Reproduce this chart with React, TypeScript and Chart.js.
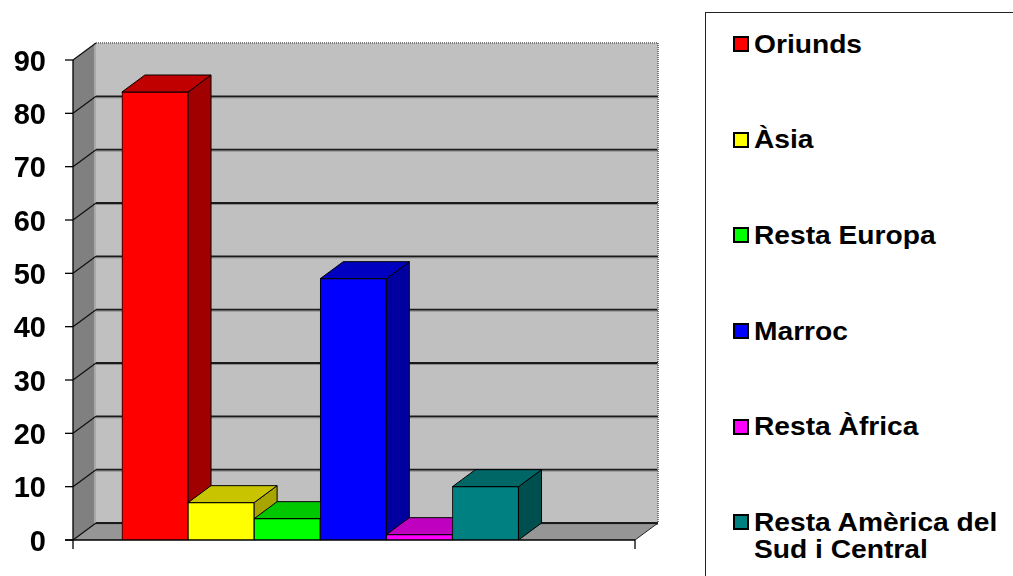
import { useEffect, useRef } from 'react';
import { Chart, registerables } from 'chart.js';

Chart.register(...registerables);

// ---- data ----
const categories = ['Oriunds', 'Àsia', 'Resta Europa', 'Marroc', 'Resta Àfrica', 'Resta Amèrica del Sud i Central'];
const values = [84, 7, 4, 49, 1, 10];
const yMin = 0;
const yMax = 90;
const yStep = 10;

// ---- styles ----
const frontColors = ['#ff0000', '#ffff00', '#00ff00', '#0000ff', '#ff00ff', '#008080'];
const topColors = ['#c00000', '#c8c400', '#00c800', '#0000c0', '#c000c0', '#006666'];
const sideColors = ['#a00000', '#a8a400', '#00a400', '#0000a0', '#a000a0', '#004f4f'];
const DX = 23;
const DY = -17;
const FONT = '"Liberation Sans", Arial, Helvetica, sans-serif';

function poly(ctx: CanvasRenderingContext2D, pts: number[][], fill: string | null, stroke: string | null, lw = 1) {
  ctx.beginPath();
  ctx.moveTo(pts[0][0], pts[0][1]);
  for (let i = 1; i < pts.length; i++) ctx.lineTo(pts[i][0], pts[i][1]);
  ctx.closePath();
  if (fill) {
    ctx.fillStyle = fill;
    ctx.fill();
  }
  if (stroke) {
    ctx.strokeStyle = stroke;
    ctx.lineWidth = lw;
    ctx.stroke();
  }
}

function line(ctx: CanvasRenderingContext2D, x1: number, y1: number, x2: number, y2: number, color: string, lw: number, dash: number[] = []) {
  ctx.beginPath();
  ctx.setLineDash(dash);
  ctx.moveTo(x1, y1);
  ctx.lineTo(x2, y2);
  ctx.strokeStyle = color;
  ctx.lineWidth = lw;
  ctx.stroke();
  ctx.setLineDash([]);
}

const box3d = {
  id: 'box3d',
  beforeDatasetsDraw(chart: any) {
    const { ctx, chartArea: a, scales } = chart;
    const ys = scales.y;
    const L = a.left, R = a.right, T = a.top, B = a.bottom;
    ctx.save();
    // side wall
    poly(ctx, [[L, T], [L + DX, T + DY], [L + DX, B + DY], [L, B]], '#808080', null);
    // back wall
    poly(ctx, [[L + DX, T + DY], [R + DX, T + DY], [R + DX, B + DY], [L + DX, B + DY]], '#c0c0c0', null);
    // floor
    poly(ctx, [[L, B], [R, B], [R + DX, B + DY], [L + DX, B + DY]], '#969696', null);
    // corner highlight
    line(ctx, L + DX - 1, T + DY, L + DX - 1, B + DY, '#a8a8a8', 2);
    // gridlines
    ys.ticks.forEach((t: any) => {
      const py = ys.getPixelForValue(t.value);
      if (t.value < yMax) {
        line(ctx, L + DX, py + DY + 1.5, R + DX, py + DY + 1.5, '#8a8a8a', 1);
        line(ctx, L + DX, py + DY, R + DX, py + DY, '#1a1a1a', 1.8);
      }
      line(ctx, L, py, L + DX, py + DY, '#111111', 1.3);
    });
    // dotted outer edges of back wall
    line(ctx, L + DX, T + DY, R + DX, T + DY, '#7a7a7a', 2, [1, 1]);
    line(ctx, R + DX, T + DY, R + DX, B + DY, '#7a7a7a', 2, [1, 1]);
    // floor right edge
    line(ctx, R, B, R + DX, B + DY, '#222222', 1);

    // bar tops and sides
    const meta = chart.getDatasetMeta(0);
    meta.data.forEach((bar: any, i: number) => {
      const p = bar.getProps(['x', 'y', 'base', 'width'], true);
      const l = p.x - p.width / 2;
      const r = p.x + p.width / 2;
      const top = p.y;
      const base = p.base;
      poly(ctx, [[r, top], [r + DX, top + DY], [r + DX, base + DY], [r, base]], sideColors[i], '#000000', 1);
      poly(ctx, [[l, top], [r, top], [r + DX, top + DY], [l + DX, top + DY]], topColors[i], '#000000', 1);
    });
    ctx.restore();
  },
  afterDatasetsDraw(chart: any) {
    const { ctx, chartArea: a, scales } = chart;
    const ys = scales.y;
    const L = a.left, R = a.right, B = a.bottom, T = a.top;
    ctx.save();
    // front axes
    line(ctx, L, T, L, B + 9, '#000000', 1.3);
    line(ctx, L - 8, B, R, B, '#000000', 1.3);
    line(ctx, R, B, R, B + 9, '#000000', 1.3);
    ctx.font = `bold 29px ${FONT}`;
    ctx.fillStyle = '#000000';
    ctx.textAlign = 'right';
    ctx.textBaseline = 'alphabetic';
    ys.ticks.forEach((t: any) => {
      const py = ys.getPixelForValue(t.value);
      line(ctx, L - 8, py, L, py, '#000000', 1.3);
      ctx.fillText(String(t.value), 46, py + 10.5);
    });
    ctx.restore();
  },
};

export default function App() {
  const ref = useRef<HTMLCanvasElement | null>(null);

  useEffect(() => {
    if (!ref.current) return;
    const chart = new Chart(ref.current, {
      type: 'bar',
      data: {
        datasets: [
          {
            label: 'valors',
            data: values.map((v, i) => ({ x: i, y: v })),
            backgroundColor: frontColors,
            borderColor: '#000000',
            borderWidth: 1,
            barPercentage: 1,
            categoryPercentage: 1,
          },
        ],
      },
      options: {
        animation: false,
        responsive: false,
        devicePixelRatio: 1,
        layout: { padding: { left: 73, right: 378, top: 60, bottom: 36 } },
        plugins: { legend: { display: false }, tooltip: { enabled: false } },
        scales: {
          x: { type: 'linear', display: false, min: -1.24, max: 7.262, offset: false, grid: { display: false } },
          y: { display: false, min: yMin, max: yMax, ticks: { stepSize: yStep } },
        },
      },
      plugins: [box3d],
    });
    return () => chart.destroy();
  }, []);

  return (
    <div style={{ position: 'absolute', left: 0, top: 0, width: 1013, height: 576, overflow: 'hidden', background: '#ffffff' }}>
      <canvas ref={ref} width={1013} height={576} style={{ position: 'absolute', left: 0, top: 0, width: 1013, height: 576 }} />
      <div
        style={{
          position: 'absolute',
          left: 705,
          top: 12,
          width: 340,
          height: 600,
          border: '1px solid #222',
          boxSizing: 'border-box',
          background: '#ffffff',
        }}
      >
        {categories.map((c, i) => (
          <div
            key={c}
            style={{
              position: 'absolute',
              left: 27,
              top: 17.7 + i * 95.6,
              display: 'flex',
              alignItems: 'flex-start',
            }}
          >
            <div
              style={{
                width: 16,
                height: 16,
                marginTop: 5.6,
                boxSizing: 'border-box',
                border: '2px solid #000',
                background: frontColors[i],
                flex: 'none',
              }}
            />
            <div
              style={{
                marginLeft: 5,
                width: 226,
                fontFamily: FONT,
                fontWeight: 'bold',
                fontSize: 25.5,
                lineHeight: '27.6px',
                color: '#000',
                transform: 'scaleX(1.105)',
                transformOrigin: 'left top',
              }}
            >
              {c}
            </div>
          </div>
        ))}
      </div>
    </div>
  );
}
